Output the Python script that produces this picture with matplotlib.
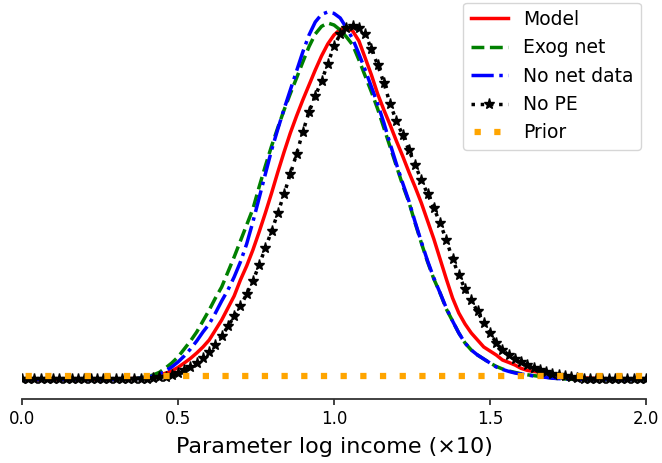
import numpy as np
import matplotlib
matplotlib.use("Agg")
import matplotlib.pyplot as plt

# common grid (step 0.02)
x_grid = np.round(np.linspace(0.0, 2.0, 101), 2)

model = [
    0.001, 0.001, 0.001, 0.001, 0.001, 0.002, 0.002, 0.002, 0.002, 0.002,
    0.002, 0.003, 0.003, 0.003, 0.004, 0.004, 0.005, 0.006, 0.008, 0.010,
    0.014, 0.018, 0.025, 0.034, 0.045, 0.063, 0.085, 0.108, 0.135, 0.165,
    0.200, 0.250, 0.300, 0.360, 0.420, 0.500, 0.570, 0.650, 0.740, 0.835,
    0.935, 1.040, 1.140, 1.235, 1.320, 1.400, 1.475, 1.550, 1.620, 1.680,
    1.725, 1.753, 1.760, 1.745, 1.695, 1.610, 1.525, 1.430, 1.350, 1.275,
    1.195, 1.120, 1.040, 0.965, 0.885, 0.795, 0.705, 0.605, 0.505, 0.410,
    0.335, 0.280, 0.235, 0.200, 0.165, 0.145, 0.125, 0.100, 0.088, 0.075,
    0.058, 0.048, 0.043, 0.038, 0.032, 0.026, 0.021, 0.017, 0.014, 0.012,
    0.010, 0.009, 0.008, 0.007, 0.006, 0.005, 0.005, 0.004, 0.004, 0.003,
    0.003,
]

exog_net = [
    0.002, 0.002, 0.002, 0.002, 0.002, 0.002, 0.002, 0.002, 0.002, 0.002,
    0.002, 0.002, 0.002, 0.002, 0.002, 0.002, 0.003, 0.005, 0.007, 0.011,
    0.017, 0.025, 0.038, 0.060, 0.085, 0.115, 0.155, 0.195, 0.240, 0.295,
    0.350, 0.410, 0.465, 0.540, 0.615, 0.695, 0.775, 0.855, 0.965, 1.070,
    1.170, 1.262, 1.350, 1.432, 1.510, 1.590, 1.667, 1.730, 1.768, 1.785,
    1.775, 1.750, 1.715, 1.675, 1.600, 1.520, 1.440, 1.355, 1.260, 1.165,
    1.070, 0.975, 0.890, 0.785, 0.685, 0.590, 0.505, 0.435, 0.355, 0.295,
    0.235, 0.185, 0.150, 0.125, 0.105, 0.085, 0.068, 0.055, 0.045, 0.038,
    0.031, 0.026, 0.022, 0.018, 0.014, 0.010, 0.007, 0.005, 0.004, 0.003,
    0.002, 0.002, 0.002, 0.002, 0.002, 0.002, 0.002, 0.002, 0.002, 0.002,
    0.002,
]

no_net_data = [
    0.002, 0.002, 0.002, 0.002, 0.002, 0.002, 0.002, 0.002, 0.002, 0.002,
    0.002, 0.002, 0.002, 0.002, 0.002, 0.002, 0.003, 0.004, 0.006, 0.009,
    0.014, 0.020, 0.030, 0.045, 0.065, 0.090, 0.120, 0.155, 0.195, 0.240,
    0.280, 0.335, 0.395, 0.450, 0.515, 0.590, 0.680, 0.790, 0.910, 1.030,
    1.150, 1.255, 1.355, 1.450, 1.545, 1.640, 1.725, 1.790, 1.828, 1.840,
    1.833, 1.810, 1.760, 1.705, 1.630, 1.550, 1.465, 1.380, 1.285, 1.180,
    1.080, 0.985, 0.895, 0.790, 0.690, 0.595, 0.510, 0.435, 0.360, 0.295,
    0.235, 0.185, 0.150, 0.125, 0.105, 0.085, 0.065, 0.053, 0.043, 0.035,
    0.030, 0.025, 0.020, 0.016, 0.013, 0.009, 0.007, 0.005, 0.004, 0.003,
    0.002, 0.002, 0.002, 0.002, 0.002, 0.002, 0.002, 0.002, 0.002, 0.002,
    0.002,
]

no_pe = [
    0.004, 0.004, 0.004, 0.004, 0.004, 0.004, 0.004, 0.004, 0.004, 0.004,
    0.004, 0.004, 0.004, 0.004, 0.004, 0.004, 0.004, 0.005, 0.005, 0.005,
    0.007, 0.009, 0.013, 0.017, 0.023, 0.033, 0.050, 0.065, 0.084, 0.108,
    0.138, 0.175, 0.220, 0.268, 0.318, 0.368, 0.430, 0.495, 0.575, 0.660,
    0.745, 0.835, 0.930, 1.030, 1.130, 1.240, 1.340, 1.420, 1.495, 1.580,
    1.670, 1.730, 1.760, 1.770, 1.760, 1.730, 1.655, 1.575, 1.485, 1.380,
    1.295, 1.225, 1.150, 1.075, 1.000, 0.930, 0.860, 0.785, 0.700, 0.605,
    0.525, 0.455, 0.398, 0.343, 0.285, 0.235, 0.185, 0.150, 0.125, 0.105,
    0.088, 0.073, 0.060, 0.050, 0.040, 0.031, 0.024, 0.018, 0.013, 0.009,
    0.007, 0.006, 0.005, 0.004, 0.004, 0.004, 0.004, 0.004, 0.004, 0.004,
    0.004,
]

prior_x = [0.0, 0.5, 1.0, 1.5, 2.0]
prior = [0.020, 0.020, 0.020, 0.020, 0.020]

labels = ["Model", "Exog net", "No net data", "No PE", "Prior"]
xticks = [0.0, 0.5, 1.0, 1.5, 2.0]
xlabel = "Parameter log income (\u00d710)"

fig = plt.figure(figsize=(6.62, 4.63), dpi=100)
ax = fig.add_axes([22 / 662, (463 - 399) / 463, 624 / 662, 399 / 463])

ax.plot(x_grid, model, color="red", lw=2.5, ls="-", label=labels[0])
ax.plot(x_grid, exog_net, color="green", lw=2.5, ls="--", label=labels[1])
ax.plot(x_grid, no_net_data, color="blue", lw=2.5, ls="-.", label=labels[2])
ax.plot(x_grid, no_pe, color="black", lw=2.5, ls=":", marker="*",
        markersize=8, label=labels[3])
ax.plot(prior_x, prior, color="orange", lw=4.5, ls=(2.58, (1, 2.15)),
        label=labels[4])

ax.set_xlim(0.0, 2.0)
ax.set_ylim(-0.095, 1.90)
ax.set_xticks(xticks)
ax.set_xticklabels([f"{t:.1f}" for t in xticks], fontsize=12)
ax.set_yticks([])
for s in ["left", "top", "right"]:
    ax.spines[s].set_visible(False)
ax.spines["bottom"].set_linewidth(1.3)
ax.spines["bottom"].set_color("0.2")
ax.tick_params(axis="x", length=4.5, width=1.3, color="0.2", pad=3.2)

ax.set_xlabel(xlabel, fontsize=16)
ax.xaxis.label.set_verticalalignment("baseline")
ax.xaxis.set_label_coords(0.5, -(453 - 399) / 399)

ax.legend(loc="upper right", bbox_to_anchor=(641 / 662, 1 - 2.5 / 463),
          bbox_transform=fig.transFigure, borderaxespad=0, fontsize=13.5,
          handlelength=2.0)

fig.savefig("out.png", dpi=100)
